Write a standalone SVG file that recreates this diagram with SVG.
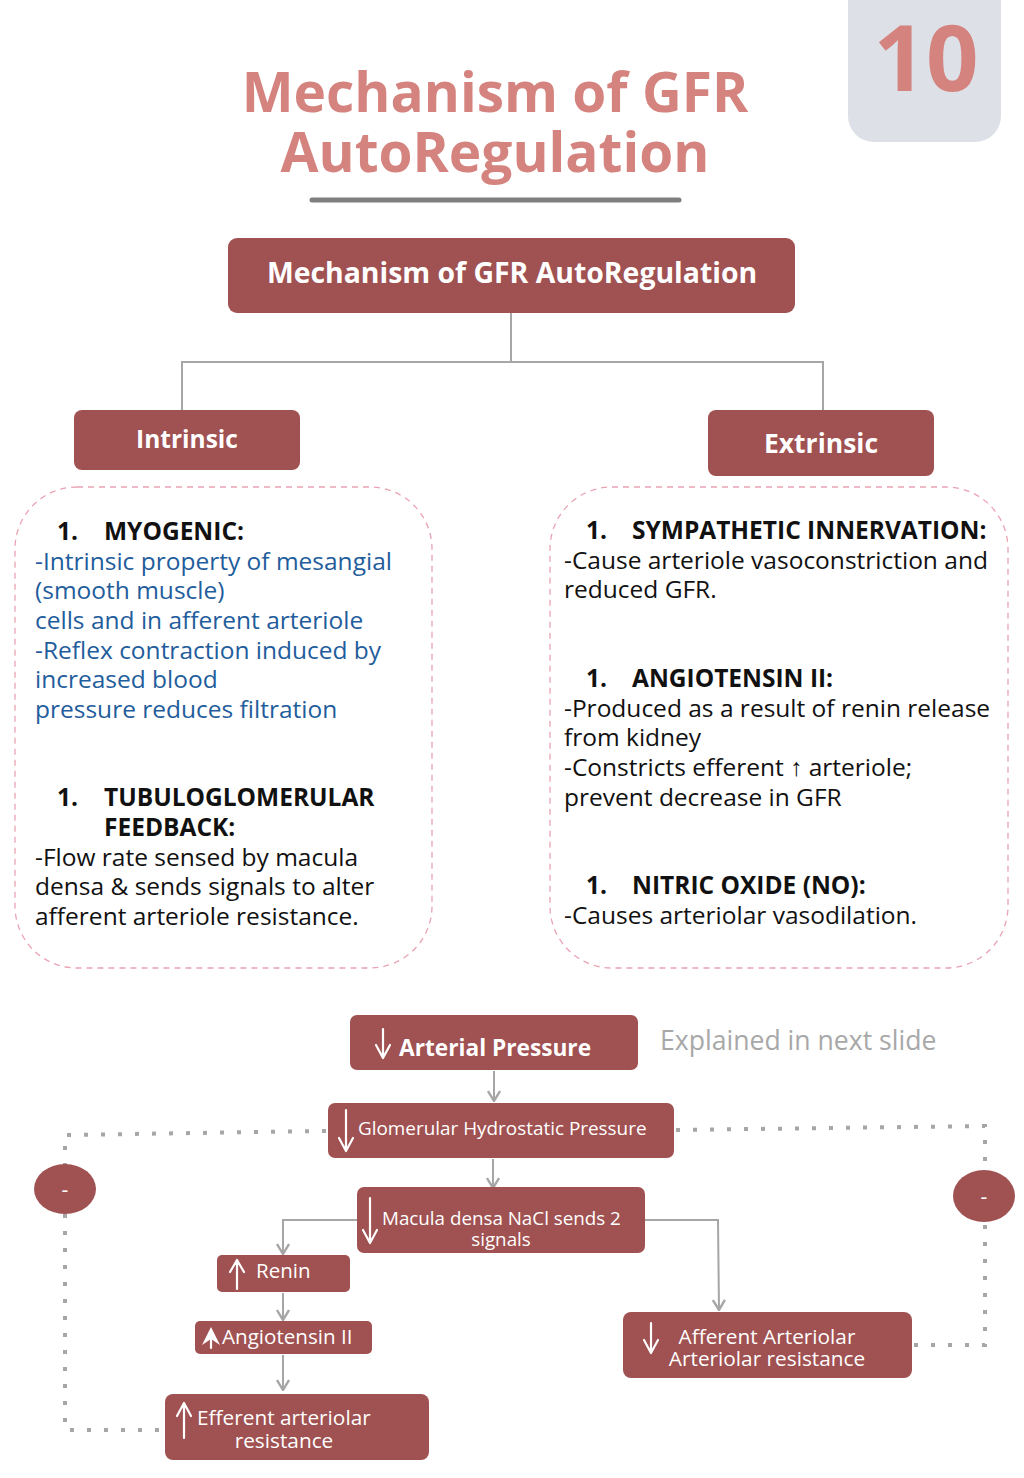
<svg xmlns="http://www.w3.org/2000/svg" width="1024" height="1478" viewBox="0 0 1024 1478">
<style>
.box{fill:#a05151;}
.wt{fill:#ffffff;font-family:"Open Sans","Liberation Sans",sans-serif;}
.b{font-weight:bold;}
.body{font-family:"Open Sans","Liberation Sans",sans-serif;font-size:24.5px;fill:#111111;}
.blue{fill:#1f5d9c;}
.hd{font-weight:bold;}
.conn{stroke:#a6a6a6;stroke-width:2;fill:none;}
.dot{stroke:#a6a6a6;stroke-width:4;fill:none;stroke-dasharray:4 13;}
.dash{fill:none;stroke:#e9a3b3;stroke-width:1.3;stroke-dasharray:6 5;}
.ia{stroke:#ffffff;stroke-width:2.2;fill:none;stroke-linecap:round;stroke-linejoin:round;}
</style>
<defs>
<marker id="ah" viewBox="0 0 12 14" refX="11" refY="7" markerWidth="12" markerHeight="14" markerUnits="userSpaceOnUse" orient="auto">
<path d="M1,1 L11,7 L1,13" fill="none" stroke="#a6a6a6" stroke-width="2.4"/>
</marker>
</defs>
<rect width="1024" height="1478" fill="#ffffff"/>

<g id="title">
<text x="495" y="112" text-anchor="middle" font-family="'Open Sans','Liberation Sans',sans-serif" font-weight="bold" font-size="55" fill="#d4837e">Mechanism of GFR</text>
<text x="495" y="172" text-anchor="middle" font-family="'Open Sans','Liberation Sans',sans-serif" font-weight="bold" font-size="55" fill="#d4837e">AutoRegulation</text>
<line x1="312" y1="200" x2="679" y2="200" stroke="#7f7f7f" stroke-width="5" stroke-linecap="round"/>
</g>

<g id="badge">
<rect x="848" y="-30" width="153" height="172" rx="26" fill="#dde0e6"/>
<text x="926" y="91" text-anchor="middle" font-family="'Open Sans','Liberation Sans',sans-serif" font-weight="bold" font-size="92" fill="#d4837e">10</text>
</g>

<g id="connectors">
<polyline class="conn" points="511,313 511,362"/>
<polyline class="conn" points="182,410 182,362 823,362 823,410"/>
<line class="conn" x1="494" y1="1071" x2="494" y2="1101" marker-end="url(#ah)"/>
<line class="conn" x1="493" y1="1159" x2="493" y2="1188" marker-end="url(#ah)"/>
<polyline class="conn" points="357,1220 283,1220 283,1254" marker-end="url(#ah)"/>
<line class="conn" x1="283" y1="1293" x2="283" y2="1320" marker-end="url(#ah)"/>
<line class="conn" x1="283" y1="1355" x2="283" y2="1390" marker-end="url(#ah)"/>
<polyline class="conn" points="645,1220 718,1220 719,1310" marker-end="url(#ah)"/>
<polyline class="dot" points="326,1131 65,1135 65,1430 163,1430"/>
<polyline class="dot" points="676,1130 985,1126 985,1345 914,1345"/>
</g>

<g id="main">
<rect class="box" x="228" y="238" width="567" height="75" rx="9"/>
<text class="wt b" x="512" y="283" text-anchor="middle" font-size="28.4">Mechanism of GFR AutoRegulation</text>
</g>

<g id="intrinsic">
<rect class="box" x="74" y="410" width="226" height="60" rx="8"/>
<text class="wt b" x="187" y="448" text-anchor="middle" font-size="24.5">Intrinsic</text>
</g>

<g id="extrinsic">
<rect class="box" x="708" y="410" width="226" height="66" rx="8"/>
<text class="wt b" x="821" y="453" text-anchor="middle" font-size="26.5">Extrinsic</text>
</g>

<g id="intrinsic-list">
<rect class="dash" x="15" y="487" width="417" height="481" rx="62"/>
<text class="body hd"><tspan x="57" y="540">1.</tspan><tspan x="104" y="540">MYOGENIC:</tspan></text>
<text class="body blue">
<tspan x="35" y="570">-Intrinsic property of mesangial</tspan>
<tspan x="35" y="599">(smooth muscle)</tspan>
<tspan x="35" y="629">cells and in afferent arteriole</tspan>
<tspan x="35" y="659">-Reflex contraction induced by</tspan>
<tspan x="35" y="688">increased blood</tspan>
<tspan x="35" y="718">pressure reduces filtration</tspan>
</text>
<text class="body hd"><tspan x="57" y="806">1.</tspan><tspan x="104" y="806">TUBULOGLOMERULAR</tspan><tspan x="104" y="836">FEEDBACK:</tspan></text>
<text class="body">
<tspan x="35" y="866">-Flow rate sensed by macula</tspan>
<tspan x="35" y="895">densa &amp; sends signals to alter</tspan>
<tspan x="35" y="925">afferent arteriole resistance.</tspan>
</text>
</g>

<g id="extrinsic-list">
<rect class="dash" x="550" y="487" width="458" height="481" rx="62"/>
<text class="body hd"><tspan x="586" y="539">1.</tspan><tspan x="632" y="539">SYMPATHETIC INNERVATION:</tspan></text>
<text class="body">
<tspan x="564" y="569">-Cause arteriole vasoconstriction and</tspan>
<tspan x="564" y="598">reduced GFR.</tspan>
</text>
<text class="body hd"><tspan x="586" y="687">1.</tspan><tspan x="632" y="687">ANGIOTENSIN II:</tspan></text>
<text class="body">
<tspan x="564" y="717">-Produced as a result of renin release</tspan>
<tspan x="564" y="746">from kidney</tspan>
<tspan x="564" y="776">-Constricts efferent ↑ arteriole;</tspan>
<tspan x="564" y="806">prevent decrease in GFR</tspan>
</text>
<text class="body hd"><tspan x="586" y="894">1.</tspan><tspan x="632" y="894">NITRIC OXIDE (NO):</tspan></text>
<text class="body"><tspan x="564" y="924">-Causes arteriolar vasodilation.</tspan></text>
</g>

<g id="arterial">
<rect class="box" x="350" y="1015" width="288" height="55" rx="7"/>
<path class="ia" d="M383,1029 V1057 M376,1045 L383,1058 L390,1045"/>
<text class="wt b" x="399" y="1056" font-size="22.7">Arterial Pressure</text>
</g>

<g id="note">
<text x="660" y="1050" font-family="'Open Sans','Liberation Sans',sans-serif" font-size="26.6" fill="#a8a8a8">Explained in next slide</text>
</g>

<g id="glomerular">
<rect class="box" x="328" y="1103" width="346" height="55" rx="7"/>
<path class="ia" d="M346,1110 V1150 M339,1138 L346,1151 L353,1138"/>
<text class="wt" x="358" y="1135" font-size="18.9">Glomerular Hydrostatic Pressure</text>
</g>

<g id="macula">
<rect class="box" x="357" y="1187" width="288" height="66" rx="7"/>
<path class="ia" d="M370,1198 V1242 M363,1230 L370,1243 L377,1230"/>
<text class="wt" x="382" y="1225" font-size="18.8">Macula densa NaCl sends 2</text>
<text class="wt" x="501" y="1246" text-anchor="middle" font-size="18.8">signals</text>
</g>

<g id="renin">
<rect class="box" x="217" y="1255" width="133" height="37" rx="5"/>
<path class="ia" d="M237,1289 V1261 M230,1272 L237,1260 L244,1272"/>
<text class="wt" x="256" y="1278" font-size="20.5">Renin</text>
</g>

<g id="angiotensin">
<rect class="box" x="195" y="1321" width="177" height="33" rx="5"/>
<path d="M211,1327 L220,1345 L211,1339 L202,1345 Z" fill="#ffffff"/>
<line class="ia" x1="211" y1="1339" x2="211" y2="1348"/>
<text class="wt" x="222" y="1344" font-size="20.6">Angiotensin II</text>
</g>

<g id="efferent">
<rect class="box" x="165" y="1394" width="264" height="66" rx="8"/>
<path class="ia" d="M184,1438 V1404 M177,1416 L184,1403 L191,1416"/>
<text class="wt" x="197" y="1425" font-size="20.8">Efferent arteriolar</text>
<text class="wt" x="284" y="1448" text-anchor="middle" font-size="20.8">resistance</text>
</g>

<g id="afferent">
<rect class="box" x="623" y="1312" width="289" height="66" rx="8"/>
<path class="ia" d="M651,1323 V1352 M644,1340 L651,1353 L658,1340"/>
<text class="wt" x="767" y="1344" text-anchor="middle" font-size="20.8">Afferent Arteriolar</text>
<text class="wt" x="767" y="1366" text-anchor="middle" font-size="20.8">Arteriolar resistance</text>
</g>

<g id="minus-left">
<ellipse class="box" cx="65" cy="1189" rx="31" ry="25"/>
<text class="wt" x="65" y="1197" text-anchor="middle" font-size="21">-</text>
</g>

<g id="minus-right">
<ellipse class="box" cx="984" cy="1196" rx="31" ry="26"/>
<text class="wt" x="984" y="1204" text-anchor="middle" font-size="21">-</text>
</g>
</svg>
